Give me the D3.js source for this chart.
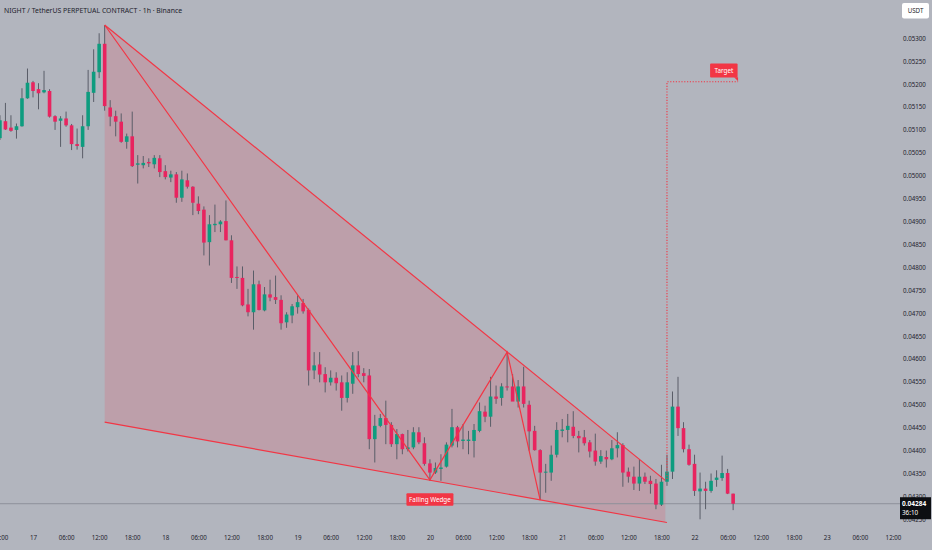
<!DOCTYPE html>
<html><head><meta charset="utf-8">
<script src="https://cdn.jsdelivr.net/npm/d3@7"></script>
<style>
html,body{margin:0;padding:0;background:#b2b5be;}
svg{display:block;}
text{font-family:"Noto Sans","DejaVu Sans",sans-serif;}
</style></head>
<body>
<svg id="chart" width="932" height="550"></svg>
<script>
// ---- DATA (prices in units of 0.00001 USDT, 1h candles from Dec 16 18:00) ----
const UNIT = 1e-5;
const opens  = [5082,5119,5105,5100,5108,5169,5204,5189,5182,5185,5130,5120,5125,5110,5069,5063,5108,5181,5226,5288,
5149,5130,5118,5074,5086,5024,5023,5030,5025,5038,5010,4996,5003,4952,4990,4976,4939,4926,4855,4892,
4894,4901,4859,4779,4777,4719,4702,4763,4706,4741,4735,4729,4680,4695,4713,4722,4707,4575,4588,4567,
4549,4559,4549,4515,4546,4586,4569,4564,4425,4454,4471,4456,4414,4436,4403,4407,4440,4416,4372,4352,
4360,4365,4411,4451,4421,4421,4421,4443,4485,4474,4518,4515,4540,4540,4507,4540,4500,4443,4401,4352,
4352,4391,4443,4445,4452,4432,4429,4418,4400,4376,4386,4381,4405,4412,4354,4343,4328,4343,4334,4328,
4282,4332,4354,4496,4449,4403,4371,4311,4317,4312,4336,4340,4351,4306];
const highs  = [5132,5159,5132,5114,5191,5234,5207,5202,5229,5189,5132,5130,5140,5113,5103,5132,5231,5276,5311,5329,
5165,5142,5136,5092,5140,5045,5043,5038,5045,5045,5023,5011,5008,5011,5005,4977,4955,4933,4914,4937,
4903,4946,4870,4802,4802,4753,4793,4771,4757,4773,4782,4739,4702,4720,4739,4731,4710,4615,4615,4582,
4575,4571,4564,4571,4615,4617,4580,4578,4478,4480,4509,4462,4447,4437,4445,4451,4451,4429,4381,4374,
4392,4418,4491,4454,4458,4443,4458,4505,4498,4561,4542,4547,4615,4567,4554,4583,4509,4454,4403,4371,
4411,4462,4469,4480,4486,4443,4445,4423,4437,4401,4400,4423,4440,4416,4363,4365,4381,4352,4345,4338,
4369,4391,4529,4561,4462,4413,4391,4352,4332,4350,4357,4389,4360,4306];
const lows   = [5078,5100,5096,5081,5107,5168,5171,5145,5180,5127,5100,5063,5107,5056,5057,5038,5100,5161,5213,5142,
5108,5086,5072,5059,5019,4983,5016,5019,5016,4997,4992,4986,4941,4943,4972,4914,4916,4826,4804,4877,
4877,4859,4766,4753,4715,4693,4664,4706,4704,4726,4720,4664,4668,4678,4699,4699,4542,4556,4549,4527,
4542,4531,4487,4505,4524,4560,4549,4403,4374,4451,4414,4408,4381,4392,4398,4403,4414,4367,4334,4349,
4334,4363,4407,4407,4403,4392,4385,4440,4462,4452,4502,4498,4531,4509,4494,4494,4400,4400,4292,4308,
4334,4385,4429,4418,4427,4396,4411,4385,4367,4371,4363,4379,4385,4321,4330,4314,4312,4327,4306,4272,
4279,4323,4338,4432,4396,4367,4301,4250,4272,4308,4321,4334,4305,4270];
const closes = [5121,5101,5098,5108,5169,5203,5185,5180,5187,5129,5118,5125,5110,5069,5065,5108,5183,5227,5288,5152,
5129,5118,5074,5086,5021,5027,5028,5027,5039,5008,4997,5003,4952,4992,4976,4941,4923,4854,4894,4895,
4900,4859,4777,4777,4717,4702,4763,4707,4741,4734,4729,4678,4697,4715,4724,4704,4575,4586,4566,4549,
4559,4547,4515,4549,4586,4567,4563,4425,4454,4471,4456,4414,4436,4403,4407,4440,4418,4371,4352,4362,
4363,4413,4451,4420,4424,4424,4445,4486,4474,4518,4513,4540,4538,4507,4540,4502,4442,4401,4352,4354,
4391,4445,4446,4454,4432,4427,4416,4398,4376,4388,4381,4405,4412,4352,4343,4328,4343,4332,4327,4282,
4332,4354,4496,4449,4403,4369,4312,4317,4312,4334,4341,4351,4306,4284];

const priceTicks = [0.0425,0.0430,0.0435,0.0440,0.0445,0.0450,0.0455,0.0460,0.0465,0.0470,0.0475,
                    0.0480,0.0485,0.0490,0.0495,0.0500,0.0505,0.0510,0.0515,0.0520,0.0525,0.0530];
// wedge annotation anchors: [candle index, price]
const wedgeUpper = [[19, 0.05329], [120.7, 0.04335]];
const wedgeLower = [[19, 0.04462], [121, 0.04243]];
const zigzag = [[19, 0.05329], [78, 0.04336], [92, 0.04615], [98, 0.04292]];
const target = {fromIdx: 121, toIdx: 133.9, startPrice: 0.04338, price: 0.05205, label: "Target"};
const wedgeLabel = {idx: 78, price: 0.04336, text: "Falling Wedge"};
const lastPrice = 0.04284, countdown = "36:10";
const title = "NIGHT / TetherUS PERPETUAL CONTRACT · 1h · Binance";

// ---- SCALES ----
const H = 3600e3;
const start = Date.UTC(2025, 11, 16, 18);
const tIdx = i => new Date(start + i * H);
const x = d3.scaleUtc()
  .domain([new Date(Date.UTC(2025, 11, 17, 0)), new Date(Date.UTC(2025, 11, 23, 12))])
  .range([33, 893]);
const xi = i => x(tIdx(i));
const y = d3.scaleLinear().domain([0.0425, 0.0530]).range([519.3, 38.3]);

const svg = d3.select("#chart");
svg.append("rect").attr("width", 932).attr("height", 550).attr("fill", "#b2b5be");

const RED = "#f23645", CRED = "#e8245f", CGREEN = "#0e9c7f", WICK = "#5a5d68";

// ---- WEDGE FILL ----
const plot = svg.append("g");
const poly = [
  [xi(wedgeUpper[0][0]), y(wedgeUpper[0][1])],
  [xi(wedgeUpper[1][0]), y(wedgeUpper[1][1])],
  [xi(wedgeUpper[1][0]), y(wedgeLower[1][1] + (wedgeLower[0][1]-wedgeLower[1][1]) * (wedgeLower[1][0]-wedgeUpper[1][0])/(wedgeLower[1][0]-wedgeLower[0][0]))],
  [xi(wedgeLower[0][0]), y(wedgeLower[0][1])]
];
plot.append("path").attr("d", d3.line()(poly) + "Z")
  .attr("fill", "rgba(242,54,69,0.17)").attr("stroke", "none");

// last price line
plot.append("line").attr("x1", 0).attr("x2", 900)
  .attr("y1", y(lastPrice)).attr("y2", y(lastPrice))
  .attr("stroke", "#8d909a").attr("stroke-width", 1);

// ---- CANDLES ----
const candles = opens.map((o, i) => ({i, o: o*UNIT, h: highs[i]*UNIT, l: lows[i]*UNIT, c: closes[i]*UNIT}));
const cg = plot.append("g");
cg.selectAll("line.wick").data(candles).join("line")
  .attr("x1", d => xi(d.i)).attr("x2", d => xi(d.i))
  .attr("y1", d => y(d.h)).attr("y2", d => y(d.l))
  .attr("stroke", WICK).attr("stroke-width", 1);
const bw = 3.6;
cg.selectAll("rect.body").data(candles).join("rect")
  .attr("x", d => xi(d.i) - bw/2).attr("width", bw)
  .attr("y", d => y(Math.max(d.o, d.c)))
  .attr("height", d => Math.max(1, Math.abs(y(d.o) - y(d.c))))
  .attr("fill", d => d.c >= d.o ? CGREEN : CRED);

// ---- WEDGE LINES ----
const lineGen = d3.line().x(d => xi(d[0])).y(d => y(d[1]));
[wedgeUpper, wedgeLower, zigzag].forEach(pts =>
  plot.append("path").attr("d", lineGen(pts)).attr("fill", "none")
    .attr("stroke", RED).attr("stroke-width", 1.2));

// ---- TARGET ----
plot.append("path")
  .attr("d", lineGen([[target.fromIdx, target.startPrice], [target.fromIdx, target.price], [target.toIdx, target.price]]))
  .attr("fill", "none").attr("stroke", RED).attr("stroke-width", 1.1).attr("stroke-dasharray", "1.2,1.6");
const tx = xi(target.toIdx), ty = y(target.price);
plot.append("rect").attr("x", tx - 28).attr("y", ty - 18.3).attr("width", 27.5).attr("height", 14)
  .attr("rx", 1).attr("fill", RED);
plot.append("path").attr("d", `M${tx-4},${ty-4.5}L${tx},${ty-0.5}L${tx},${ty-4.5}Z`).attr("fill", RED);
plot.append("text").attr("x", tx - 14.2).attr("y", ty - 9.2).attr("text-anchor", "middle")
  .attr("font-size", 6.3).attr("fill", "#fff").text(target.label);

// ---- FALLING WEDGE LABEL ----
const wx = xi(wedgeLabel.idx), wy = y(wedgeLabel.price);
plot.append("rect").attr("x", wx - 23.5).attr("y", wy + 13.4).attr("width", 47).attr("height", 12.5)
  .attr("rx", 1).attr("fill", RED);
plot.append("text").attr("x", wx).attr("y", wy + 21.9).attr("text-anchor", "middle")
  .attr("font-size", 6.3).attr("fill", "#fff").text(wedgeLabel.text);

// ---- AXES ----
const timeTicks = d3.utcHour.every(6).range(new Date(start), new Date(Date.UTC(2025, 11, 23, 13)));
const xAxis = d3.axisBottom(x).tickValues(timeTicks).tickSize(0)
  .tickFormat(d => d.getUTCHours() === 0 ? d3.utcFormat("%-d")(d) : d3.utcFormat("%H:%M")(d));
const gx = svg.append("g").attr("transform", "translate(0,536)").call(xAxis);
gx.select(".domain").remove();
gx.selectAll("text").attr("font-size", 6.2).attr("fill", "#1e222d").attr("dy", "0.71em").attr("y", 0);

const yAxis = d3.axisRight(y).tickValues(priceTicks).tickSize(0).tickFormat(d3.format(".5f"));
const gy = svg.append("g").attr("transform", "translate(903,0)").call(yAxis);
gy.select(".domain").remove();
gy.selectAll("text").attr("font-size", 6.2).attr("fill", "#1e222d").attr("x", 0);

// last price box
const ly = y(lastPrice);
svg.append("rect").attr("x", 900).attr("y", ly - 6.5).attr("width", 31).attr("height", 22).attr("fill", "#0c0e12");
svg.append("text").attr("x", 902).attr("y", ly + 2.3).attr("font-size", 6.5).attr("font-weight", "bold")
  .attr("fill", "#fff").text(d3.format(".5f")(lastPrice));
svg.append("text").attr("x", 902).attr("y", ly + 11.5).attr("font-size", 6.3)
  .attr("fill", "#fff").text(countdown);

// USDT box
svg.append("rect").attr("x", 902).attr("y", 3).attr("width", 27).attr("height", 15.5).attr("rx", 2).attr("fill", "#fff");
svg.append("text").attr("x", 915.5).attr("y", 13).attr("text-anchor", "middle").attr("font-size", 6.2)
  .attr("fill", "#1e222d").text("USDT");

// title
svg.append("text").attr("x", 4).attr("y", 12.5).attr("font-size", 6.9).attr("fill", "#1e222d").text(title);
</script>
</body></html>
